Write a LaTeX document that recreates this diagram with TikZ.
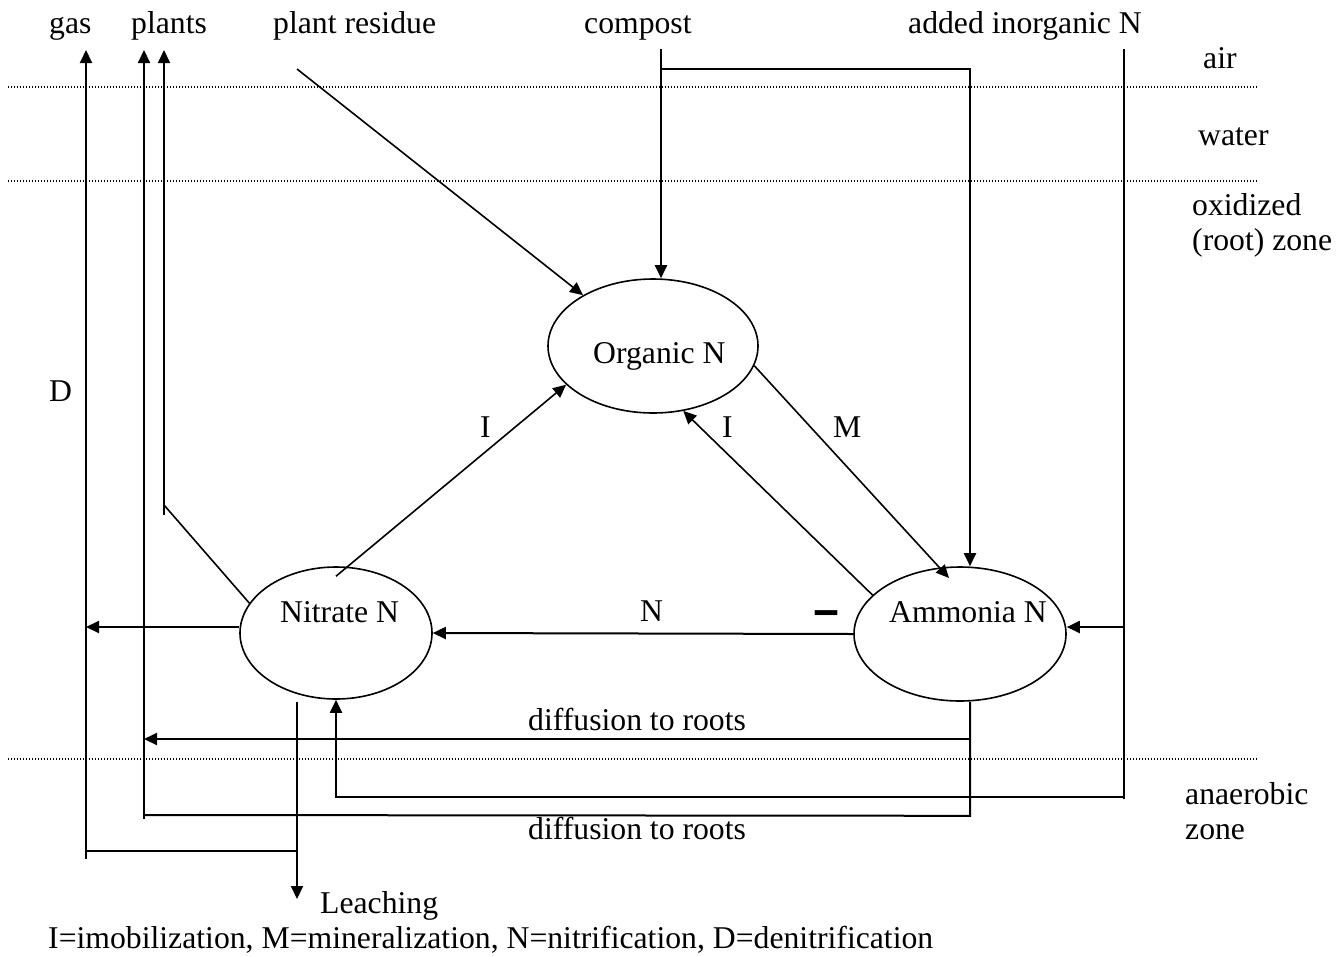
\documentclass[tikz,border=0pt]{standalone}
\usepackage{fontspec}
\setmainfont{Liberation Serif}
\usetikzlibrary{arrows.meta,shapes.geometric,calc}
\begin{document}
\begin{tikzpicture}[x=1pt,y=-1pt,
  lbl/.style={anchor=base west,inner sep=0pt,font=\fontsize{31.7}{38}\selectfont},
  conn/.style={line width=2pt},
  diag/.style={line width=1.6pt},
  arr/.style={-{Triangle[length=13pt,width=12pt]}},
  zoneline/.style={line width=1.2pt,dash pattern=on 1.2pt off 1.8pt},
  pool/.style={ellipse,draw,line width=1.6pt,inner sep=0pt}]
\useasboundingbox (0,0) rectangle (1343,956);

% zone boundaries
\coordinate (zl1) at (8,87);  \coordinate (zr1) at (1257,87);
\coordinate (zl2) at (8,181); \coordinate (zr2) at (1257,181);
\coordinate (zl3) at (8,759); \coordinate (zr3) at (1257,759);
\draw[zoneline] (zl1) -- (zr1);
\draw[zoneline] (zl2) -- (zr2);
\draw[zoneline] (zl3) -- (zr3);

% pools
\node[pool,minimum width=210pt,minimum height=134pt] (org) at (653,346) {};
\node[pool,minimum width=192pt,minimum height=132pt] (nit) at (336,633) {};
\node[pool,minimum width=212pt,minimum height=134pt] (amm) at (960,634) {};
\node[lbl] (torg) at (593,363) {Organic N};
\node[lbl] (tnit) at (280,622) {Nitrate N};
\node[lbl] (tamm) at (889,622) {Ammonia N};

% top labels
\node[lbl] (tgas) at (49,33) {gas};
\node[lbl] (tplants) at (131,33) {plants};
\node[lbl] (tres) at (273,33) {plant residue};
\node[lbl] (tcomp) at (584,33) {compost};
\node[lbl] (tadd) at (908,33) {added inorganic N};

% zone labels
\node[lbl] (tair) at (1203,68) {air};
\node[lbl] (twater) at (1198,145) {water};
\node[lbl] (tox) at (1192,215) {oxidized};
\node[lbl] (troot) at (1192,250) {(root) zone};
\node[lbl] (tana) at (1185,804) {anaerobic};
\node[lbl] (tzone) at (1185,839) {zone};

% process labels
\node[lbl] (tD) at (49,401) {D};
\node[lbl] (tI1) at (480,437) {I};
\node[lbl] (tI2) at (722,437) {I};
\node[lbl] (tM) at (833,437) {M};
\node[lbl] (tN) at (640,621) {N};
\node[anchor=base west,inner sep=0pt,font=\fontsize{44}{50}\selectfont\bfseries] (tdash) at (815,629) {\scalebox{1}[1.6]{–}};
\node[lbl] (tdif1) at (528,730) {diffusion to roots};
\node[lbl] (tdif2) at (528,839) {diffusion to roots};
\node[lbl] (tleach) at (320,913) {Leaching};
\node[lbl] (tlegend) at (48,948) {I=imobilization, M=mineralization, N=nitrification, D=denitrification};

% gas (denitrification)
\coordinate (gasB) at (86,859); \coordinate (gasT) at (86,50);
\coordinate (gasC) at (86,851);
\draw[conn,arr] (gasB) -- (gasT);
\draw[conn,arr] ([yshift=6pt]nit.west) -- (gasT |- 0,627);

% leaching
\coordinate (leachS) at (297,702); \coordinate (leachE) at (297,899);
\draw[conn,arr] (leachS) -- (leachE);
\draw[conn] (gasC) -- (gasC -| leachS);

% plants (diffusion)
\coordinate (p1B) at (144,819); \coordinate (p1T) at (144,50);
\coordinate (p1C) at (144,815);
\draw[conn,arr] (p1B) -- (p1T);
\draw[conn] ([xshift=10pt]amm.south) -- ++(0,114) -- (p1C);
\coordinate (du) at (970,739);
\draw[conn,arr] (du) -- (du -| p1T);

% plants (nitrate uptake)
\coordinate (p2T) at (164,50); \coordinate (p2B) at (164,515);
\coordinate (p2K) at (164,505);
\draw[conn,arr] (p2B) -- (p2T);
\draw[diag] (nit.161) -- (p2K);

% transformations
\draw[diag,arr] ([yshift=-10pt]nit.north) -- (org.204);
\draw[diag,arr] (amm.156) -- (org.295);
\draw[diag,arr] (org.349) -- ($(amm.center)+(-11,-56)$);
\draw[conn,arr] (amm.west) -- (nit.east);

% plant residue
\coordinate (prS) at (297,69);
\draw[diag,arr] (prS) -- (org.144);

% compost
\coordinate (cT) at (661,49);
\coordinate (cJ) at (661,69); \coordinate (cK) at (970,69);
\draw[conn,arr] (cT) -- (cT |- org.north);
\draw[conn,arr] (cJ) -- (cK) -- (cK |- amm.north);

% added inorganic N
\coordinate (aT) at (1124,49); \coordinate (aB) at (1124,799);
\coordinate (aR) at (1124,627); \coordinate (aC) at (1124,797);
\draw[conn] (aT) -- (aB);
\draw[conn,arr] (aR) -- (aR -| amm.east);
\draw[conn,arr] (aC) -- (aC -| nit.south) -- (nit.south);
\end{tikzpicture}
\end{document}
